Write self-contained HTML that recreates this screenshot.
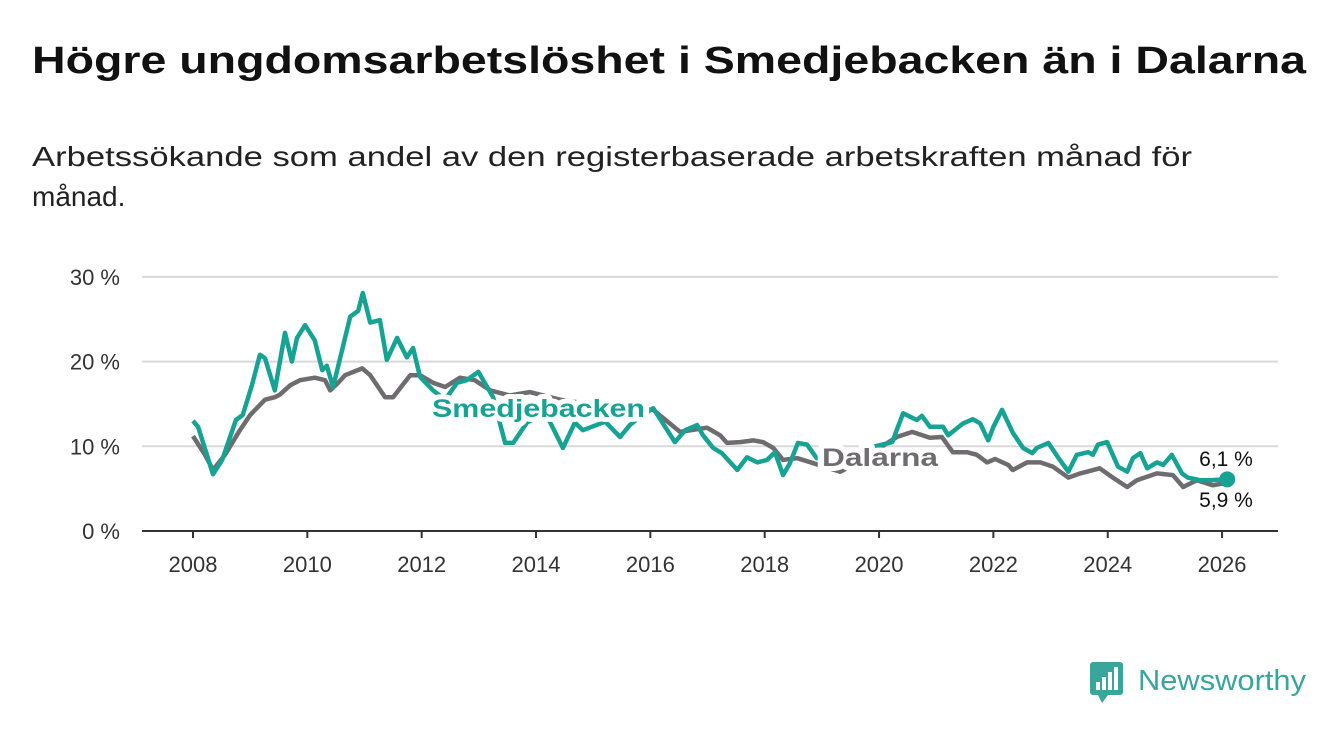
<!DOCTYPE html>
<html><head><meta charset="utf-8"><style>
html,body{margin:0;padding:0;background:#fff;}
svg{display:block;font-family:"Liberation Sans",sans-serif;}
</style></head><body>
<svg id="chart" width="1340" height="734" viewBox="0 0 1340 734">
<text x="32" y="73" font-size="38" font-weight="bold" fill="#111" textLength="1274" lengthAdjust="spacingAndGlyphs">Högre ungdomsarbetslöshet i Smedjebacken än i Dalarna</text>
<text x="32" y="166" font-size="28" fill="#222" textLength="1160" lengthAdjust="spacingAndGlyphs">Arbetssökande som andel av den registerbaserade arbetskraften månad för</text>
<text x="32" y="206" font-size="28" fill="#222">månad.</text>
<g id="grid"></g><g id="series"></g><g id="labels"></g>
<g>
<rect x="1090" y="662" width="33" height="33" rx="3" fill="#3aa59a"/>
<path d="M1098 695 L1102 703 L1108 695 Z" fill="#3aa59a"/>
<rect x="1096" y="682" width="4" height="8" fill="#fff"/><rect x="1102" y="677" width="4" height="13" fill="#fff"/><rect x="1108" y="672" width="4" height="18" fill="#fff"/><rect x="1114" y="667" width="4" height="23" fill="#fff"/>
<text x="1138" y="690" font-size="29" fill="#3aa59a" textLength="168" lengthAdjust="spacingAndGlyphs">Newsworthy</text>
</g>
</svg>
<script>
const yTicks=[0,10,20,30];
const yTickLabels=["0 %","10 %","20 %","30 %"];
const xTicks=[2008,2010,2012,2014,2016,2018,2020,2022,2024,2026];
const smedDates=[2008.00,2008.09,2008.35,2008.51,2008.75,2008.87,2009.03,2009.17,2009.26,2009.43,2009.61,2009.73,2009.82,2009.96,2010.13,2010.26,2010.34,2010.45,2010.75,2010.89,2010.97,2011.10,2011.27,2011.39,2011.57,2011.74,2011.85,2011.97,2012.20,2012.41,2012.62,2012.79,2012.99,2013.25,2013.46,2013.60,2013.84,2014.16,2014.47,2014.68,2014.82,2015.21,2015.47,2015.64,2015.82,2016.05,2016.43,2016.61,2016.82,2016.92,2017.10,2017.25,2017.52,2017.69,2017.87,2018.04,2018.18,2018.32,2018.44,2018.58,2018.74,2018.91,2019.23,2019.58,2019.93,2020.23,2020.42,2020.66,2020.75,2020.89,2021.12,2021.21,2021.47,2021.64,2021.77,2021.91,2022.00,2022.15,2022.34,2022.52,2022.68,2022.76,2022.96,2023.13,2023.31,2023.46,2023.66,2023.74,2023.83,2023.99,2024.18,2024.34,2024.44,2024.57,2024.69,2024.86,2024.97,2025.12,2025.30,2025.40,2025.61,2025.79,2026.09];
const smedValues=[13.0,12.3,6.7,8.4,13.1,13.7,17.2,20.8,20.4,16.6,23.4,20.0,22.8,24.3,22.5,19.0,19.5,17.0,25.3,26.0,28.1,24.6,24.9,20.2,22.8,20.5,21.6,18.2,16.6,15.5,17.5,17.8,18.8,15.8,10.4,10.4,12.8,14.0,9.8,12.8,11.9,12.9,11.1,12.5,13.5,14.5,10.5,11.9,12.5,11.3,9.8,9.2,7.2,8.7,8.1,8.4,9.3,6.6,8.0,10.4,10.2,8.6,8.2,9.0,10.0,10.5,13.9,13.1,13.6,12.3,12.3,11.3,12.7,13.2,12.7,10.7,12.3,14.3,11.6,9.8,9.2,9.8,10.4,8.7,7.0,9.0,9.3,9.0,10.2,10.5,7.6,7.0,8.6,9.2,7.4,8.1,7.8,9.0,6.8,6.3,6.0,6.0,6.1];
const dalaDates=[2008.00,2008.21,2008.35,2008.56,2008.82,2009.00,2009.26,2009.43,2009.52,2009.70,2009.87,2010.13,2010.31,2010.40,2010.54,2010.66,2010.96,2011.10,2011.36,2011.50,2011.80,2011.97,2012.20,2012.41,2012.67,2012.93,2013.20,2013.54,2013.89,2014.42,2015.12,2015.64,2016.05,2016.52,2016.99,2017.22,2017.34,2017.57,2017.80,2017.97,2018.15,2018.32,2018.57,2018.85,2019.32,2019.75,2020.10,2020.31,2020.58,2020.89,2021.10,2021.29,2021.54,2021.71,2021.89,2022.03,2022.26,2022.34,2022.59,2022.82,2023.04,2023.31,2023.52,2023.86,2024.09,2024.34,2024.51,2024.86,2025.14,2025.32,2025.56,2025.84,2026.09];
const dalaValues=[11.2,9.0,7.2,9.0,11.9,13.7,15.5,15.8,16.1,17.2,17.8,18.1,17.8,16.6,17.5,18.4,19.2,18.4,15.8,15.8,18.4,18.4,17.5,17.0,18.1,17.8,16.6,16.0,16.4,15.5,14.8,14.5,14.3,11.7,12.2,11.3,10.4,10.5,10.7,10.5,9.8,8.4,8.6,8.0,7.0,8.5,10.2,11.1,11.7,11.0,11.1,9.3,9.3,9.0,8.1,8.5,7.8,7.2,8.1,8.1,7.6,6.3,6.8,7.4,6.3,5.2,6.0,6.8,6.6,5.2,6.0,5.4,5.7];
const NS="http://www.w3.org/2000/svg";
const x=y=>193+(y-2008)*57.17;
const yv=v=>531-v*8.47;
function mk(tag,attrs,parent){const e=document.createElementNS(NS,tag);for(const k in attrs)e.setAttribute(k,attrs[k]);parent.appendChild(e);return e;}
const grid=document.getElementById('grid');
yTicks.forEach((t,i)=>{
 if(t>0){const g=mk('line',{x1:142,x2:1278,y1:yv(t),y2:yv(t),stroke:'#d9d9d9','stroke-width':2},grid);
 
 }
 const l=mk('text',{x:120,y:yv(t)+8,'font-size':22,'text-anchor':'end',fill:'#333'},grid);l.textContent=yTickLabels[i];
 
 
});
xTicks.forEach(t=>{
 mk('line',{x1:x(t),x2:x(t),y1:531,y2:538,stroke:'#333','stroke-width':2},grid);
 const l=mk('text',{x:x(t),y:572,'font-size':22,'text-anchor':'middle',fill:'#333'},grid);l.textContent=t;
 
 
});
const ax=mk('line',{x1:142,x2:1278,y1:531,y2:531,stroke:'#333','stroke-width':2},grid);


const ser=document.getElementById('series');
function line(d,v){return d.map((t,i)=>(i?'L':'M')+x(t).toFixed(1)+' '+yv(v[i]).toFixed(1)).join(' ');}
const pd=mk('path',{d:line(dalaDates,dalaValues),fill:'none',stroke:'#6f6c70','stroke-width':4.5,'stroke-linejoin':'round'},ser);


const ps=mk('path',{d:line(smedDates,smedValues),fill:'none',stroke:'#16a394','stroke-width':4.5,'stroke-linejoin':'round'},ser);


const n=smedDates.length-1;
const dot=mk('circle',{cx:x(smedDates[n]),cy:yv(smedValues[n]),r:8,fill:'#16a394'},ser);


const lab=document.getElementById('labels');
function lbl(t,xx,yy,c,name,bold,anchor,tl){const a={x:xx,y:yy,'font-size':bold?25:21,'font-weight':bold?'bold':'normal',fill:c,stroke:'#fff','stroke-width':bold?10:6,'paint-order':'stroke','stroke-linejoin':'round','text-anchor':anchor||'start'};if(tl){a.textLength=tl;a.lengthAdjust='spacingAndGlyphs';}const e=mk('text',a,lab);e.textContent=t;
 
 }
lbl('Smedjebacken',432,417,'#16a394','smedjebacken-label',true,'start',213);
lbl('Dalarna',822,466,'#6f6c70','dalarna-label',true,'start',116);
lbl('6,1 %',1226,466,'#111','smedjebacken-end-value',false,'middle');
lbl('5,9 %',1226,507,'#111','dalarna-end-value',false,'middle');
</script>
</body></html>
